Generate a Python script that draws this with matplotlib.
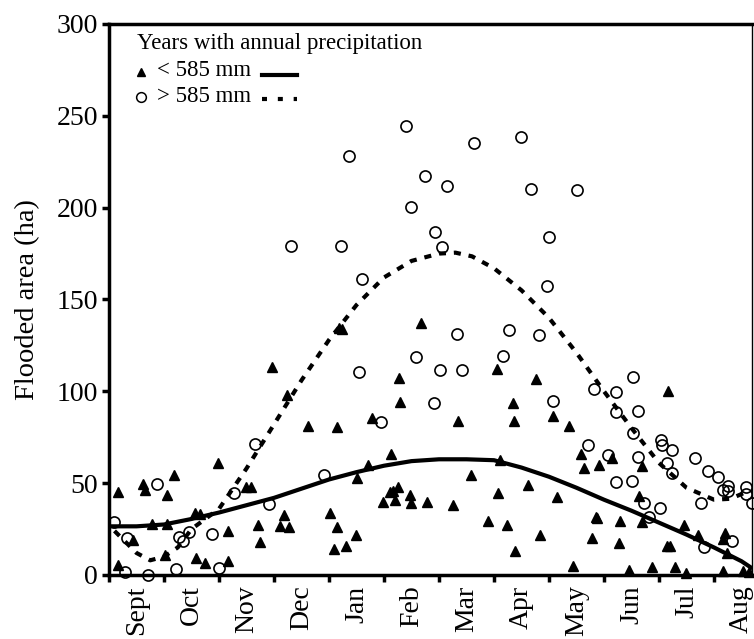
import matplotlib.pyplot as plt

plt.rcParams['font.family'] = ['Liberation Serif', 'DejaVu Serif']

# x positions are in months since 1 Sept (1 unit = 1 month)
months = ['Sept', 'Oct', 'Nov', 'Dec', 'Jan', 'Feb', 'Mar', 'Apr', 'May', 'Jun', 'Jul', 'Aug']

# years with annual precipitation < 585 mm (triangles)
dry_x = [0.16, 0.16, 0.44, 0.61, 0.66, 0.79, 1.05, 1.05, 1.19, 1.02, 1.56, 1.65, 1.59, 1.75,
         1.99, 2.17, 2.17, 2.49, 2.58, 2.70, 2.74, 2.96, 3.23, 3.18, 3.10, 3.28, 3.62, 4.14,
         4.01, 4.14, 4.10, 4.31, 4.49, 4.50, 4.71, 4.79, 5.13, 5.28, 5.29, 4.18, 4.23, 5.67,
         4.99, 5.11, 5.20, 5.26, 5.47, 5.50, 5.17,
         7.06, 7.76, 7.35, 7.37, 6.34, 8.08, 8.36, 8.58, 8.64, 8.91, 9.15, 9.70, 10.16, 6.59,
         7.11, 5.78, 6.26, 7.08, 7.62, 8.15, 6.90, 7.24, 7.84, 7.39, 8.43, 8.85, 8.87, 8.79,
         9.29, 9.28, 9.64, 9.69, 9.46, 9.88, 10.14, 10.20, 10.29, 10.45, 10.49, 10.71, 11.16,
         11.20, 11.23, 11.16, 11.52, 11.63]
dry_y = [45.4, 5.4, 19, 49.5, 46.3, 27.8, 27.8, 43.5, 54.4, 10.9, 33.6, 33.2, 9.1, 6.7,
         60.8, 24.1, 7.8, 48.1, 48.1, 27.2, 18.1, 113.4, 98, 32.7, 26.7, 25.9, 81.1, 80.4,
         33.9, 25.9, 14, 16, 21.8, 52.6, 59.9, 85.5, 66, 107, 94.3, 134.5, 134, 137,
         39.9, 45.4, 40.8, 48.1, 43.5, 39, 46,
         112, 106.7, 93.5, 83.8, 83.8, 86.7, 81.2, 65.9, 58.4, 59.9, 63.5, 59.3, 100.3, 54.2,
         62.8, 39.9, 38.1, 44.5, 49, 42.6, 29.4, 27.2, 21.8, 13.1, 5.1, 31.7, 31, 20,
         29.4, 17.2, 43.2, 29, 2.7, 4.5, 15.8, 15.8, 4.5, 27.2, 1, 21.8, 19.4,
         22.7, 11.8, 2.4, 2.4, 1.8]

# years with annual precipitation > 585 mm (open circles)
wet_x = [0.09, 0.32, 0.29, 0.71, 0.87, 1.22, 1.28, 1.35, 1.46, 1.87, 2.00, 2.27, 2.66, 2.91,
         3.91, 4.55, 4.94, 5.58, 5.40, 4.37, 5.49, 3.31, 4.21, 4.60, 5.75, 6.14, 6.64, 7.49,
         7.67, 8.50, 5.93, 6.05, 8.00, 7.97, 6.32, 7.28, 7.81, 7.17, 6.01, 6.41, 5.90, 8.08,
         8.82, 9.22, 9.53, 9.22, 9.62, 9.53, 8.71, 9.08, 9.61, 10.03, 10.05, 10.24, 10.15,
         10.24, 10.65, 10.90, 11.07, 11.26, 11.17, 11.26, 11.59, 11.59, 11.69, 9.22, 9.51,
         9.73, 9.81, 10.02, 10.76, 10.81, 11.32]
wet_y = [29, 20, 1.8, 0, 49.5, 3.1, 20.9, 18.7, 23.6, 22.3, 3.8, 44.5, 71.5, 38.6,
         54.4, 110.3, 83.3, 118.7, 244.6, 228.3, 200.5, 179.1, 179.1, 161, 217.2, 211.9, 235, 238.6,
         210.1, 209.6, 186.5, 178.4, 184.2, 157.3, 131.2, 133.4, 130.6, 119.3, 111.6, 111.6, 93.8, 94.8,
         101.3, 99.8, 108, 88.6, 89.5, 77.1, 70.8, 65.3, 64.4, 73.5, 70.8, 68, 61.1,
         55.7, 63.5, 56.8, 53.5, 48.6, 46.3, 45.6, 48.1, 44.1, 39, 50.4, 51.2,
         39, 31.7, 36.3, 39, 15.1, 18.7]

# fitted curves
dry_fit_x = [0.0, 0.5, 1.0, 1.5, 2.0, 2.5, 3.0, 3.5, 4.0, 4.5, 5.0, 5.5, 6.0, 6.5,
             7.0, 7.5, 8.0, 8.5, 9.0, 9.5, 10.0, 10.5, 11.0, 11.5, 11.7]
dry_fit_y = [26.5, 26.5, 27.5, 30.5, 34, 38, 42, 47, 52, 56, 59.5, 62, 63, 63,
             62.5, 58.5, 53.5, 47.5, 41, 35, 28.5, 22, 15, 7.5, 3.5]
wet_fit_x = [0.1, 0.3, 0.5, 0.75, 1.0, 1.25, 1.5, 2.0, 2.5, 3.0, 3.5, 4.0, 4.5, 5.0,
             5.5, 6.0, 6.3, 6.6, 7.0, 7.5, 8.0, 8.5, 9.0, 9.5, 10.0, 10.5, 11.0, 11.3, 11.65]
wet_fit_y = [24, 18, 12, 8, 10, 15, 25, 36, 58, 82, 106, 128, 147, 162,
             171, 175, 175.5, 173.5, 167, 155, 140, 121, 100, 80, 61, 47.5, 41, 41.5, 46]

fig = plt.figure(figsize=(7.54, 6.39), dpi=100)
ax = fig.add_axes([109 / 754, 64 / 639, 643 / 754, 551 / 639])

ax.plot(dry_x, dry_y, linestyle='none', marker='^', ms=7.5, color='black', clip_on=False, zorder=3)
ax.plot(wet_x, wet_y, linestyle='none', marker='o', ms=8, mfc='none', mec='black', mew=1.2,
        clip_on=False, zorder=3)
ax.plot(dry_fit_x, dry_fit_y, color='black', lw=3, solid_capstyle='butt', zorder=2)
ax.plot(wet_fit_x, wet_fit_y, color='black', lw=3, linestyle=(0, (1.7, 1.9)), zorder=2)

ax.set_xlim(0, 643 / 55)
ax.set_ylim(0, 300)
ax.set_yticks(range(0, 301, 50))
ax.set_xticks(range(0, 12))
ax.set_xticklabels([])
ax.set_xticks([i + 0.5 for i in range(12)], minor=True)
ax.set_xticklabels(months, minor=True, rotation=90, fontsize=20)
ax.tick_params(axis='x', which='minor', length=0, pad=7.5)
ax.tick_params(axis='x', which='major', direction='out', length=5, width=2.5)
ax.tick_params(axis='y', direction='out', length=5, width=2.5, labelsize=20, pad=3)
ax.set_ylabel('Flooded area (ha)', fontsize=20.5, labelpad=12)

for side in ['left', 'bottom', 'top']:
    ax.spines[side].set_linewidth(2.5)
ax.spines['right'].set_linewidth(1.0)

# hand-made legend
ax.text(0.0435, 0.964, 'Years with annual precipitation', transform=ax.transAxes,
        fontsize=16.5, va='center', ha='left')
ax.plot([0.0498], [0.913], transform=ax.transAxes, marker='^', ms=6, color='black', linestyle='none')
ax.text(0.0747, 0.915, '< 585 mm', transform=ax.transAxes, fontsize=16.5, va='center', ha='left')
ax.plot([0.238, 0.292], [0.907, 0.907], transform=ax.transAxes, color='black', lw=3)
ax.plot([0.0498], [0.8675], transform=ax.transAxes, marker='o', ms=7, mfc='none', mec='black',
        mew=1.1, linestyle='none')
ax.text(0.0747, 0.869, '> 585 mm', transform=ax.transAxes, fontsize=16.5, va='center', ha='left')
ax.plot([0.238, 0.292], [0.864, 0.864], transform=ax.transAxes, color='black', lw=3,
        linestyle=(0, (1.2, 2.6)))

fig.savefig('out.png', dpi=100)
